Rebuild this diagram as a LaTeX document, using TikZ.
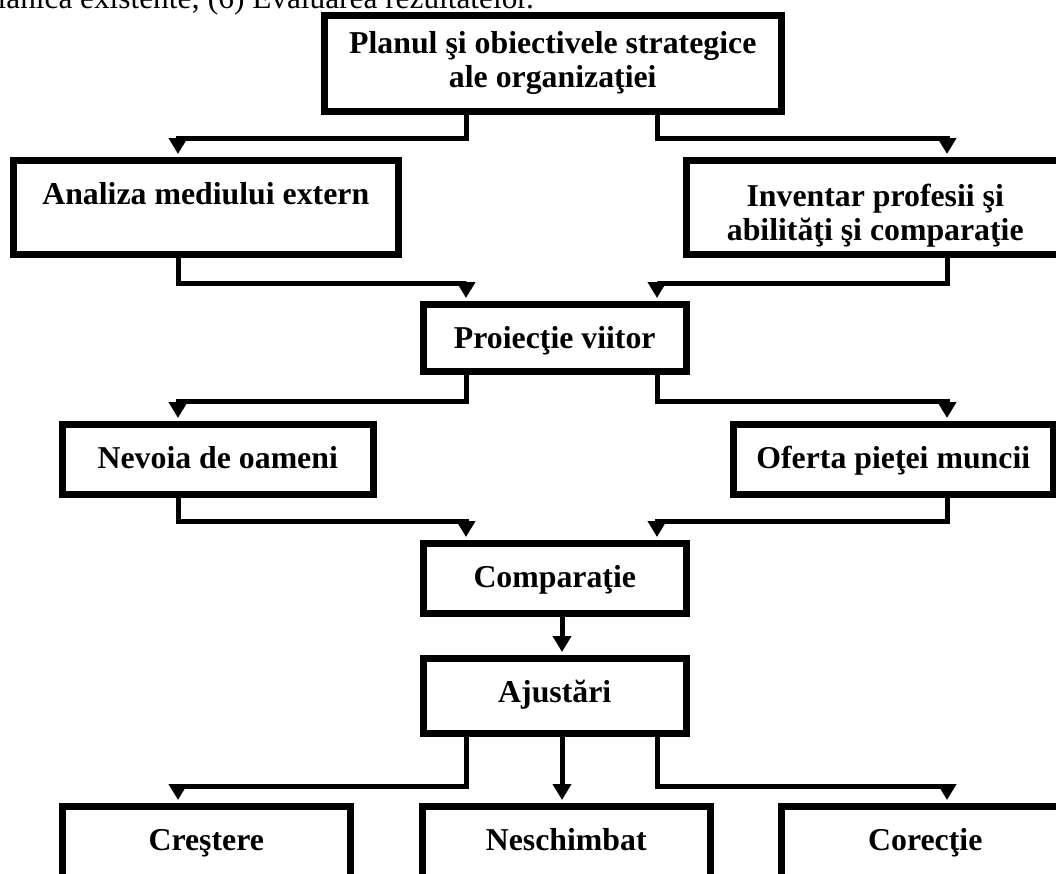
\documentclass[tikz,border=0pt]{standalone}
\usepackage{fontspec}
\setmainfont{Liberation Serif}
\usetikzlibrary{arrows.meta}
\begin{document}
\begin{tikzpicture}[x=1pt, y=-1pt, >={Triangle[width=18pt,length=16pt]}, line join=miter, font=\fontsize{31.3}{35}\selectfont]
\tikzset{bx/.style={draw, line width=6.5pt, inner sep=0pt, anchor=north west, align=center, font=\fontsize{31.8}{34}\selectfont\bfseries, text height=44pt},
  ln/.style={->, line width=5pt, shorten >=3pt}}
\useasboundingbox (0,0) rectangle (1056,873);
\clip (0,0) rectangle (1056,873);
% lanes of the connectors
\coordinate (l) at (178,0); \coordinate (r) at (947,0);
\coordinate (ml) at (466,0); \coordinate (mc) at (562,0); \coordinate (mr) at (657,0);
\node[anchor=base west, inner sep=0pt] (cap) at (80,8) {\llap{ianica }existente; (6) Evaluarea rezultatelor.};
\node[bx, text height=72pt, minimum width=457pt, text depth=24pt] (plan) at (321,12) {Planul şi obiectivele strategice\\ale organizaţiei};
\node[bx, minimum width=385pt, text depth=50pt] (ana) at (10,157) {Analiza mediului extern};
\node[bx, text height=80pt, minimum width=378pt, text depth=14pt] (inv) at (683,157) {Inventar profesii şi\\abilităţi şi comparaţie};
\node[bx, minimum width=263pt, text depth=23pt] (pro) at (420,301) {Proiecţie viitor};
\node[bx, minimum width=311pt, text depth=26pt] (nev) at (59,421) {Nevoia de oameni};
\node[bx, minimum width=320pt, text depth=26pt] (ofe) at (730,421) {Oferta pieţei muncii};
\node[bx, minimum width=263pt, text depth=26pt] (comp) at (420,540) {Comparaţie};
\node[bx, minimum width=263pt, text depth=31pt] (aj) at (420,655) {Ajustări};
\node[bx, minimum width=288pt, text depth=80pt] (cre) at (59,803) {Creştere};
\node[bx, minimum width=288pt, text depth=80pt] (nes) at (419,803) {Neschimbat};
\node[bx, minimum width=288pt, text depth=80pt] (cor) at (778,803) {Corecţie};
\foreach \s/\t/\x/\y/\h in {plan/ana/ml/l/24, plan/inv/mr/r/24, ana/pro/l/ml/26, inv/pro/r/mr/26,
  pro/nev/ml/l/27, pro/ofe/mr/r/27, nev/comp/l/ml/24, ofe/comp/r/mr/24, aj/cre/ml/l/50, aj/cor/mr/r/50}
  \draw[ln] (\s.south -| \x) -- ++(0,\h) -| (\t.north -| \y);
\draw[ln] (comp.south -| mc) -- (aj.north -| mc);
\draw[ln] (aj.south -| mc) -- (nes.north -| mc);
\end{tikzpicture}
\end{document}
